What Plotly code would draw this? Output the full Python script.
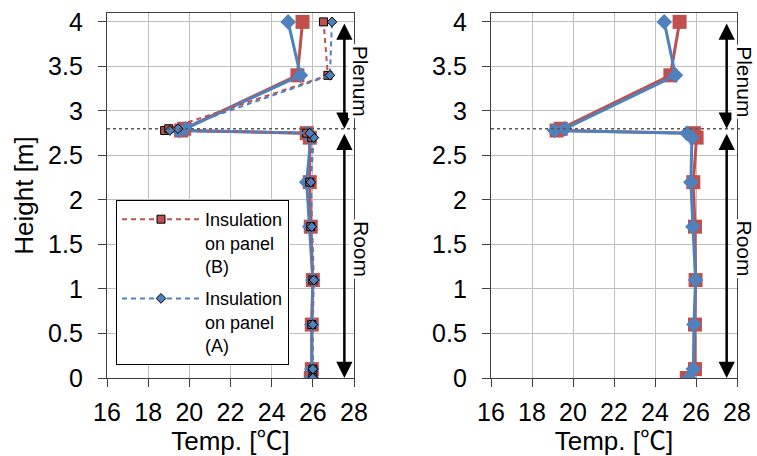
import plotly.graph_objects as go

# ---------------- data ----------------
heights = [0.0, 0.1, 0.6, 1.1, 1.7, 2.2, 2.7, 2.75, 2.78, 2.8, 3.4, 4.0]

left_solid_B = [25.9, 25.95, 25.95, 26.0, 25.9, 25.85, 25.85, 25.7, 19.6, 19.75, 25.25, 25.5]
left_solid_A = [25.95, 25.95, 25.95, 26.0, 25.85, 25.7, 25.9, 25.75, 19.5, 19.8, 25.4, 24.8]
left_dash_B = [26.0, 26.0, 25.95, 26.0, 25.9, 25.85, 25.95, 25.7, 18.8, 19.0, 26.73, 26.52]
left_dash_A = [26.0, 26.0, 26.0, 26.05, 25.95, 25.9, 26.05, 25.85, 19.05, 19.45, 26.83, 26.93]

right_solid_B = [25.55, 25.95, 25.95, 25.98, 25.95, 25.87, 26.03, 25.9, 19.2, 19.4, 24.75, 25.2]
right_solid_A = [25.66, 25.87, 25.9, 25.98, 25.85, 25.75, 25.8, 25.55, 19.1, 19.6, 25.0, 24.45]

x_ticks = [16, 18, 20, 22, 24, 26, 28]
y_ticks = [0, 0.5, 1, 1.5, 2, 2.5, 3, 3.5, 4]
y_tick_labels = ["0", "0.5", "1", "1.5", "2", "2.5", "3", "3.5", "4"]
partition_height = 2.8
legend_B = "Insulation<br>on panel<br>(B)"
legend_A = "Insulation<br>on panel<br>(A)"

RED = "#C0504D"
BLUE = "#4F81BD"
FONT = "Liberation Sans, Arial, Noto Sans CJK JP, sans-serif"

fig = go.Figure()


def solid(xv, color, symbol, size, xa, ya):
    fig.add_trace(go.Scatter(
        x=xv, y=heights, mode="lines+markers", xaxis=xa, yaxis=ya,
        line=dict(color=color, width=3),
        marker=dict(symbol=symbol, size=size, color=color, line=dict(width=0)),
        showlegend=False, hoverinfo="x+y"))


def dashed(xv, color, symbol, size, name, group):
    fig.add_trace(go.Scatter(
        x=xv, y=heights, mode="lines+markers", xaxis="x", yaxis="y",
        name=name, legendgroup=group,
        line=dict(color=color, width=2, dash="5px,4px"),
        marker=dict(symbol=symbol, size=size, color=color,
                    line=dict(width=1, color="black"))))


solid(left_solid_B, RED, "square", 14, "x", "y")
solid(left_solid_A, BLUE, "diamond", 12, "x", "y")
dashed(left_dash_B, RED, "square", 8, legend_B, "b")
dashed(left_dash_A, BLUE, "diamond", 7.5, legend_A, "a")
solid(right_solid_B, RED, "square", 14, "x2", "y2")
solid(right_solid_A, BLUE, "diamond", 12, "x2", "y2")

W, H = 757, 456
dom1 = [107 / W, 354 / W]
dom2 = [491 / W, 737 / W]
ydom = [(H - 378) / H, (H - 13) / H]

axis_common = dict(
    showgrid=True, gridcolor="#BFBFBF", gridwidth=1.3,
    showline=True, linecolor="#404040", linewidth=1.3, mirror=True,
    ticks="outside", ticklen=8, tickcolor="#404040", tickwidth=1.3,
    tickfont=dict(size=25, color="black", family=FONT),
    zeroline=False, automargin=False,
)

xa = dict(axis_common, range=[16, 28], tickvals=x_ticks, ticklabelstandoff=4,
          title=dict(text="Temp. [℃]", font=dict(size=26, family=FONT, color="black"), standoff=0))
ya = dict(axis_common, range=[0, 4.1], tickvals=y_ticks, ticktext=y_tick_labels,
          ticklabelstandoff=10,
          title=dict(text="Height [m]", font=dict(size=26, family=FONT, color="black"), standoff=6))

fig.update_layout(
    width=W, height=H,
    margin=dict(l=0, r=0, t=0, b=0),
    paper_bgcolor="white", plot_bgcolor="white",
    font=dict(family=FONT, color="black"),
    xaxis=dict(xa, domain=dom1, anchor="y"),
    yaxis=dict(ya, domain=ydom, anchor="x"),
    xaxis2=dict(xa, domain=dom2, anchor="y2"),
    yaxis2=dict(ya, domain=ydom, anchor="x2", title=dict(text="")),
    legend=dict(x=116 / W, y=(H - 200) / H, xanchor="left", yanchor="top",
                bgcolor="white", bordercolor="black", borderwidth=1,
                font=dict(size=18, family=FONT, color="black"),
                traceorder="grouped", tracegroupgap=6, valign="top",
                itemwidth=78),
)

# partition dotted lines and arrows / labels
for xr, yr in (("x", "y"), ("x2", "y2")):
    fig.add_shape(type="line", xref=f"{xr} domain", yref=yr,
                  x0=0, x1=1.012, y0=partition_height, y1=partition_height,
                  line=dict(color="#595959", width=1.5, dash="dot"))

arrow_x = {"x": 0.961, "x2": 0.958}
label_x = {"x": 1.028, "x2": 1.03}
for xr, yr in (("x", "y"), ("x2", "y2")):
    # Plenum arrow
    fig.add_annotation(xref=f"{xr} domain", yref=yr, axref=f"{xr} domain", ayref=yr,
                       x=arrow_x[xr], y=2.8, ax=arrow_x[xr], ay=4.0, text="",
                       showarrow=True, arrowhead=2, arrowside="end+start",
                       arrowsize=1.3, arrowwidth=2.5, arrowcolor="black", standoff=0, startstandoff=0)
    # Room arrow
    fig.add_annotation(xref=f"{xr} domain", yref=yr, axref=f"{xr} domain", ayref=yr,
                       x=arrow_x[xr], y=0.0, ax=arrow_x[xr], ay=2.76, text="",
                       showarrow=True, arrowhead=2, arrowside="end+start",
                       arrowsize=1.3, arrowwidth=2.5, arrowcolor="black", standoff=0, startstandoff=0)
    fig.add_annotation(xref=f"{xr} domain", yref=yr, x=label_x[xr], y=3.33,
                       xanchor="center", yanchor="middle",
                       text="Plenum", textangle=90, showarrow=False,
                       bgcolor="white", font=dict(size=21, family=FONT, color="black"))
    fig.add_annotation(xref=f"{xr} domain", yref=yr, x=label_x[xr], y=1.45,
                       xanchor="center", yanchor="middle",
                       text="Room", textangle=90, showarrow=False,
                       bgcolor="white", font=dict(size=21, family=FONT, color="black"))

fig.write_html("out.html")
